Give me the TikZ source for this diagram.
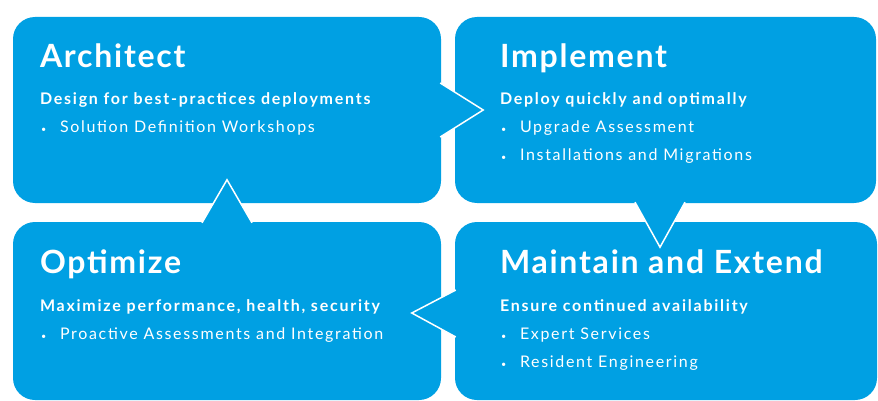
\documentclass[tikz,border=0pt]{standalone}
\usepackage{fontspec}
\setmainfont{Lato}
\newfontfamily\headfont[LetterSpace=5.5]{Lato}
\newfontfamily\leadfont[LetterSpace=11]{Lato}
\newfontfamily\pointfont[LetterSpace=10.5]{Lato}
\usetikzlibrary{positioning,calc}
\definecolor{tileblue}{RGB}{0,160,227}
\newcommand{\itemdot}{\makebox[20pt][l]{\hspace{1pt}\fontsize{9}{9}\selectfont\textbullet}}
\tikzset{
  tile/.style n args={2}{fill=tileblue, rounded corners=22pt, inner sep=0pt,
    minimum width=#1, minimum height=#2},
  tail/.style={fill=tileblue, draw=white, line width=1.5pt, line join=miter},
  heading/.style={anchor=base west, inner sep=0pt, text=white,
    font=\headfont\fontsize{32}{36}\selectfont\bfseries},
  lead/.style={anchor=base west, inner sep=0pt, text=white,
    font=\leadfont\fontsize{16}{18}\selectfont\bfseries},
  point/.style={anchor=base west, inner sep=0pt, text=white,
    font=\pointfont\fontsize{16}{18}\selectfont},
}

\begin{document}
\begin{tikzpicture}[x=1pt, y=-1pt]
  \useasboundingbox (0,0) rectangle (878,401);
  % four stage tiles
  \node[tile={428pt}{186pt}] (arch) at (227,110) {};
  \node[tile={421pt}{186pt}] (impl) at (665.5,110) {};
  \node[tile={422pt}{178pt}] (maint) at (666,311) {};
  \node[tile={428pt}{178pt}] (optim) at (227,311) {};
  % tails pointing to the next stage
  \coordinate (archTip) at ([shift={(42,0)}]arch.east);
  \coordinate (implTip) at ([shift={(-5.5,44)}]impl.south);
  \coordinate (maintTip) at ([shift={(-43,2)}]maint.west);
  \coordinate (optimTip) at ([shift={(0,-42)}]optim.north);
  \filldraw[tail] ([shift={(-1,-27)}]arch.east) -- (archTip)
    -- ([shift={(-1,27)}]arch.east);
  \filldraw[tail] ([shift={(-30.5,-1)}]impl.south) -- (implTip)
    -- ([shift={(19.5,-1)}]impl.south);
  \filldraw[tail] ([shift={(1,-21)}]maint.west) -- (maintTip)
    -- ([shift={(1,26)}]maint.west);
  \filldraw[tail] ([shift={(-25,1)}]optim.north) -- (optimTip)
    -- ([shift={(25,1)}]optim.north);
  % Architect
  \node[heading] (archT) at ([shift={(27,51)}]arch.north west) {Architect};
  \node[lead] (archL) at ([shift={(0,37)}]archT.base west)
    {Design for best-practices deployments};
  \node[point] (archP1) at ([shift={(0,28)}]archL.base west)
    {\itemdot Solution Definition Workshops};
  % Implement
  \node[heading] (implT) at ([shift={(45,51)}]impl.north west) {Implement};
  \node[lead] (implL) at ([shift={(0,37)}]implT.base west)
    {Deploy quickly and optimally};
  \node[point] (implP1) at ([shift={(0,28)}]implL.base west)
    {\itemdot Upgrade Assessment};
  \node[point] (implP2) at ([shift={(0,28)}]implP1.base west)
    {\itemdot Installations and Migrations};
  % Maintain and Extend
  \node[heading] (maintT) at ([shift={(45,52)}]maint.north west)
    {Maintain and Extend};
  \node[lead] (maintL) at ([shift={(0,38)}]maintT.base west)
    {Ensure continued availability};
  \node[point] (maintP1) at ([shift={(0,28)}]maintL.base west)
    {\itemdot Expert Services};
  \node[point] (maintP2) at ([shift={(0,28)}]maintP1.base west)
    {\itemdot Resident Engineering};
  % Optimize
  \node[heading] (optimT) at ([shift={(27,52)}]optim.north west) {Optimize};
  \node[lead] (optimL) at ([shift={(0,38)}]optimT.base west)
    {Maximize performance, health, security};
  \node[point] (optimP1) at ([shift={(0,28)}]optimL.base west)
    {\itemdot Proactive Assessments and Integration};
\end{tikzpicture}
\end{document}
